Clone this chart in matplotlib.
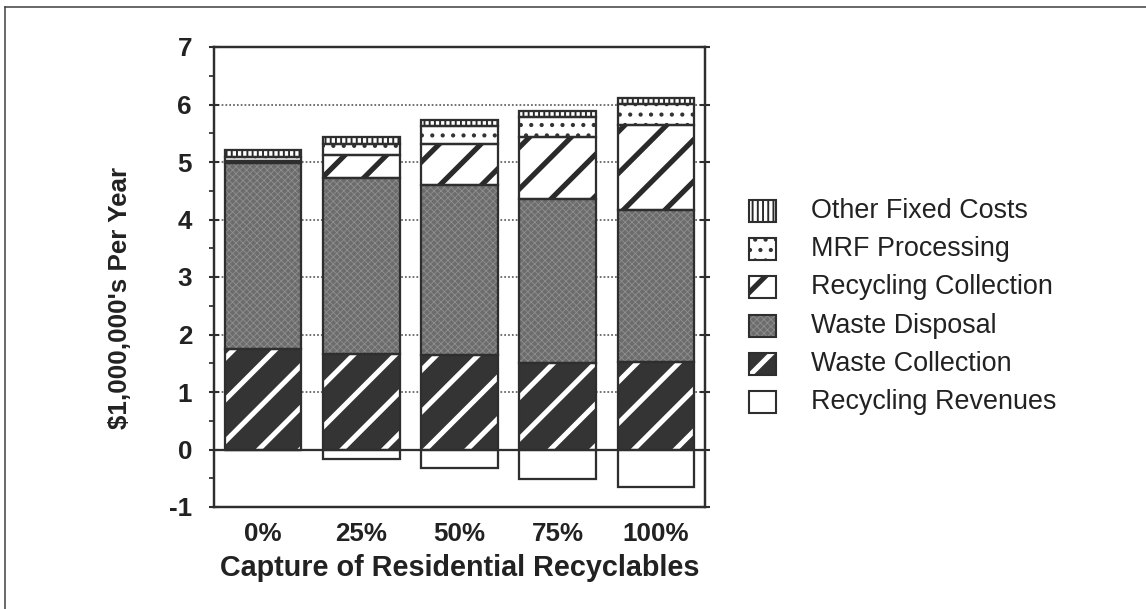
import matplotlib
matplotlib.use("Agg")
import matplotlib.pyplot as plt
from matplotlib.patches import Rectangle
from matplotlib.lines import Line2D
import numpy as np

plt.rcParams['font.family'] = ['Liberation Sans', 'DejaVu Sans']
plt.rcParams['axes.unicode_minus'] = False

# ---- data ($ millions per year) ----
captures = ['0%', '25%', '50%', '75%', '100%']
waste_collection = [1.75, 1.66, 1.65, 1.51, 1.52]
waste_disposal = [3.23, 3.07, 2.95, 2.84, 2.65]
recycling_collection = [0.04, 0.39, 0.72, 1.08, 1.47]
mrf_processing = [0.06, 0.19, 0.30, 0.35, 0.37]
other_fixed_costs = [0.12, 0.13, 0.11, 0.11, 0.11]
recycling_revenues = [0.0, -0.17, -0.32, -0.52, -0.66]

W, H, DPI = 1146, 609, 125
INK = '#222222'
OUTLINE = '#2e2e2e'

# fill styles: face colour, hatch, hatch colour, hatch line width
STYLES = {
    'Other Fixed Costs':    ('white', '||||', '#2a2a2a', 1.1),
    'MRF Processing':       ('white', '..', '#333333', 1.2),
    'Recycling Collection': ('white', '/', '#2a2a2a', 3.0),
    'Waste Disposal':       ('#6c6c6c', 'xxxxxx', '#8e8e8e', 0.5),
    'Waste Collection':     ('#343434', '/', 'white', 2.9),
    'Recycling Revenues':   ('white', None, 'white', 1.0),
}


def px_x(p):
    return p / W


def px_y(p):
    return 1 - p / H


def hatched_bar(ax, x, vals, bottom, name, width):
    face, hatch, hcol, hlw = STYLES[name]
    with plt.rc_context({'hatch.linewidth': hlw}):
        bars = ax.bar(x, vals, width, bottom=bottom, color=face,
                      edgecolor=hcol, hatch=hatch, linewidth=0, zorder=2)
    for b in bars:
        if hasattr(b, 'set_hatch_linewidth'):
            b.set_hatch_linewidth(hlw)
    ax.bar(x, vals, width, bottom=bottom, fill=False,
           edgecolor=OUTLINE, linewidth=1.3, zorder=3)


fig = plt.figure(figsize=(W / DPI, H / DPI), dpi=DPI)
ax = fig.add_axes([px_x(214), px_y(507), 491 / W, 460 / H])

x = np.arange(len(captures))
width = 0.78

stack = [
    ('Waste Collection', waste_collection),
    ('Waste Disposal', waste_disposal),
    ('Recycling Collection', recycling_collection),
    ('MRF Processing', mrf_processing),
    ('Other Fixed Costs', other_fixed_costs),
]
bottom = np.zeros(len(captures))
for name, vals in stack:
    vals = np.asarray(vals)
    hatched_bar(ax, x, vals, bottom, name, width)
    bottom = bottom + vals

hatched_bar(ax, x, np.asarray(recycling_revenues), np.zeros(len(captures)),
            'Recycling Revenues', width)

# dotted grid and solid zero line
for g in range(1, 7):
    ax.axhline(g, color='#5e5e5e', lw=1.0, ls=(0, (1.0, 1.2)), zorder=1)
ax.axhline(0, color=OUTLINE, lw=1.3, zorder=1.5)

ax.set_xlim(-0.5, len(captures) - 0.5)
ax.set_ylim(-1, 7)
ax.set_xticks(x)
ax.set_xticklabels(captures)
ax.set_yticks(range(-1, 8))
ax.set_yticks(np.arange(-0.5, 7, 1.0), minor=True)

for s in ax.spines.values():
    s.set_color(OUTLINE)
    s.set_linewidth(1.4)

ax.tick_params(axis='x', length=0, pad=8.5, labelsize=15, labelcolor=INK)
ax.tick_params(axis='y', which='major', direction='inout', length=5.2,
               width=1.2, color=OUTLINE, right=True, pad=10,
               labelsize=15, labelcolor=INK)
ax.tick_params(axis='y', which='minor', direction='out', length=2.8,
               width=1.0, color=OUTLINE)
for lbl in ax.get_xticklabels() + ax.get_yticklabels():
    lbl.set_fontweight('bold')

ax.set_xlabel('Capture of Residential Recyclables', fontsize=16.6,
              fontweight='bold', color=INK, va='center')
ax.xaxis.set_label_coords(0.5, (507 - 568) / 460)
ax.set_ylabel("$1,000,000's Per Year", fontsize=15, fontweight='bold',
              color=INK, va='center')
ax.yaxis.set_label_coords((120 - 214) / 491, (507 - 298) / 460)

# legend, top entry first
legend_order = ['Other Fixed Costs', 'MRF Processing', 'Recycling Collection',
                'Waste Disposal', 'Waste Collection', 'Recycling Revenues']
for i, name in enumerate(legend_order):
    cy = 211 + 38.2 * i
    face, hatch, hcol, hlw = STYLES[name]
    with plt.rc_context({'hatch.linewidth': hlw}):
        r = Rectangle((px_x(749), px_y(cy + 11)), 27 / W, 22 / H,
                      transform=fig.transFigure, facecolor=face,
                      edgecolor=hcol, hatch=hatch, linewidth=0)
    if hasattr(r, 'set_hatch_linewidth'):
        r.set_hatch_linewidth(hlw)
    fig.add_artist(r)
    fig.add_artist(Rectangle((px_x(749), px_y(cy + 11)), 27 / W, 22 / H,
                             transform=fig.transFigure, fill=False,
                             edgecolor=OUTLINE, linewidth=1.2))
    fig.text(px_x(811), px_y(cy), name, fontsize=15.5, color=INK,
             ha='left', va='center')

# page frame (top and left edges)
fig.add_artist(Line2D([px_x(5), px_x(1146)], [px_y(7), px_y(7)],
                      transform=fig.transFigure, color='#444444', lw=0.9))
fig.add_artist(Line2D([px_x(5), px_x(5)], [px_y(7), px_y(609)],
                      transform=fig.transFigure, color='#444444', lw=0.9))

fig.savefig('out.png', dpi=DPI, facecolor='white')
